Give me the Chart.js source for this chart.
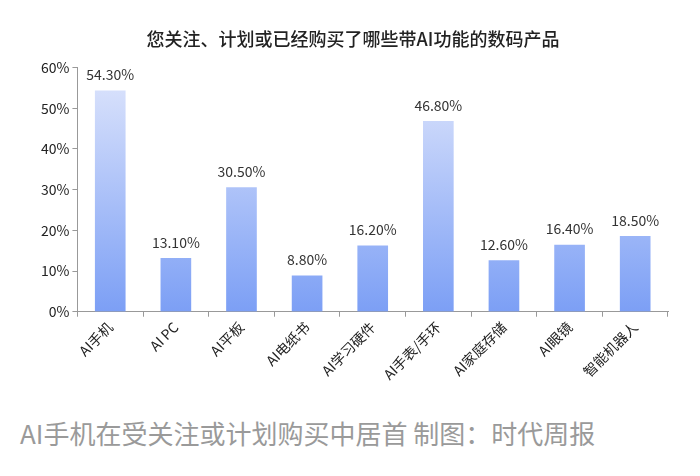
<!DOCTYPE html>
<html>
<head>
<meta charset="utf-8">
<script src="https://cdn.jsdelivr.net/npm/chart.js@4"></script>
<style>
body { margin: 0; background: #fff; font-family: "Noto Sans CJK SC", sans-serif; }
#wrap { position: relative; width: 700px; height: 385px; }
#caption { position: absolute; left: 20px; top: 414px; font-size: 26px; color: #9a9a9a; }
</style>
</head>
<body>
<div id="wrap"><canvas id="chart"></canvas></div>
<div id="caption">AI手机在受关注或计划购买中居首 制图：时代周报</div>
<script>
const categories = ['AI手机', 'AI PC', 'AI平板', 'AI电纸书', 'AI学习硬件', 'AI手表/手环', 'AI家庭存储', 'AI眼镜', '智能机器人'];
const values = [54.3, 13.1, 30.5, 8.8, 16.2, 46.8, 12.6, 16.4, 18.5];
const yTicks = [0, 10, 20, 30, 40, 50, 60];

const FONT = '"Noto Sans CJK SC", sans-serif';

function barGradient(context) {
    const chart = context.chart;
    const area = chart.chartArea;
    if (!area) return '#90aaf6';
    const g = chart.ctx.createLinearGradient(0, area.top, 0, area.bottom);
    g.addColorStop(0, '#dfe6fc');
    g.addColorStop(1, '#7c9ff5');
    return g;
}

const valueLabels = {
    id: 'valueLabels',
    afterDatasetsDraw(chart) {
        const ctx = chart.ctx;
        const meta = chart.getDatasetMeta(0);
        ctx.save();
        ctx.font = '14px ' + FONT;
        ctx.fillStyle = '#333';
        ctx.textAlign = 'center';
        ctx.textBaseline = 'bottom';
        meta.data.forEach((bar, i) => {
            ctx.fillText(values[i].toFixed(2) + '%', bar.x, bar.y - 9);
        });
        ctx.restore();
    }
};

new Chart(document.getElementById('chart').getContext('2d'), {
    type: 'bar',
    data: {
        labels: categories,
        datasets: [{
            data: values,
            backgroundColor: barGradient,
            barThickness: 30
        }]
    },
    options: {
        responsive: true,
        maintainAspectRatio: false,
        animation: false,
        layout: { padding: { left: 38, right: 32, top: 10, bottom: 0 } },
        plugins: {
            legend: { display: false },
            tooltip: { enabled: false },
            title: {
                display: true,
                text: '您关注、计划或已经购买了哪些带AI功能的数码产品',
                color: '#222',
                font: { family: FONT, size: 18, weight: '500' },
                padding: { top: 18, bottom: 18 }
            }
        },
        scales: {
            x: {
                grid: { display: true, drawOnChartArea: false, offset: true, tickLength: 5, color: '#999' },
                border: { color: '#999' },
                ticks: {
                    color: '#222', font: { family: FONT, size: 14 },
                    maxRotation: 45, minRotation: 45, padding: 2
                }
            },
            y: {
                min: 0, max: 60,
                afterBuildTicks(axis) { axis.ticks = yTicks.map(v => ({ value: v })); },
                grid: { display: true, drawOnChartArea: false, tickLength: 5, color: '#999' },
                border: { color: '#999' },
                ticks: {
                    color: '#222', font: { family: FONT, size: 14 },
                    callback: v => v + '%'
                }
            }
        }
    },
    plugins: [valueLabels]
});
</script>
</body>
</html>
